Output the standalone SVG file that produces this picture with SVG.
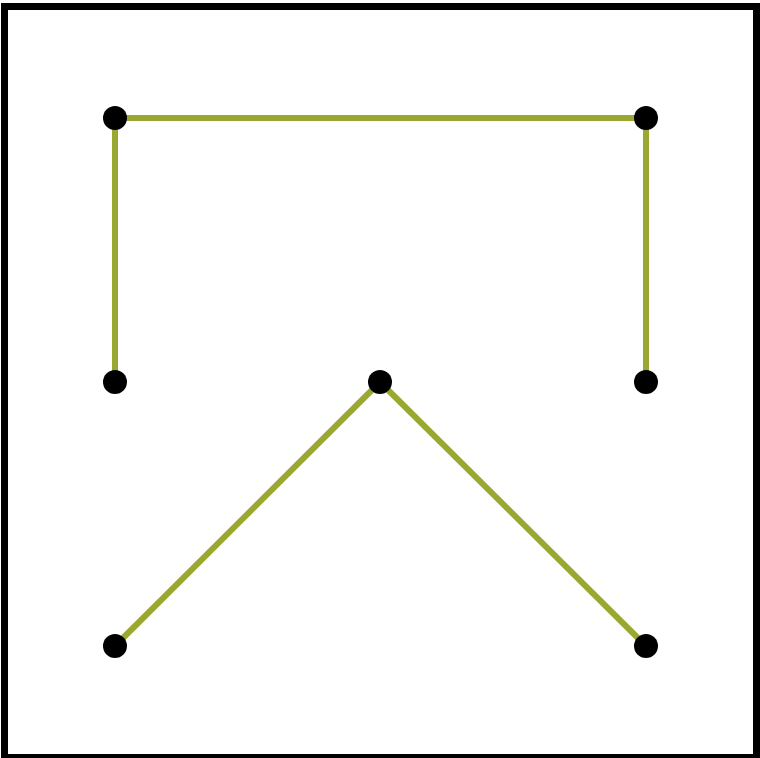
<svg xmlns="http://www.w3.org/2000/svg" width="760" height="758" viewBox="0 0 760 758">
<style>
.edge{stroke:#9aa832;stroke-width:6;fill:none}
.node{fill:#000}
</style>
<rect x="0" y="0" width="760" height="758" fill="#fff"/>
<rect x="4.5" y="6.5" width="752" height="751" fill="none" stroke="#000" stroke-width="7"/>
<g id="connectors">
<line class="edge" x1="115" y1="118" x2="646" y2="118"/>
<line class="edge" x1="115" y1="118" x2="115" y2="382"/>
<line class="edge" x1="646" y1="118" x2="646" y2="382"/>
<line class="edge" x1="380" y1="382" x2="115" y2="646"/>
<line class="edge" x1="380" y1="382" x2="646" y2="646"/>
</g>
<g id="n1"><circle class="node" cx="115" cy="118" r="12"/></g>
<g id="n2"><circle class="node" cx="646" cy="118" r="12"/></g>
<g id="n3"><circle class="node" cx="115" cy="382" r="12"/></g>
<g id="n4"><circle class="node" cx="380" cy="382" r="12"/></g>
<g id="n5"><circle class="node" cx="646" cy="382" r="12"/></g>
<g id="n6"><circle class="node" cx="115" cy="646" r="12"/></g>
<g id="n7"><circle class="node" cx="646" cy="646" r="12"/></g>
</svg>
